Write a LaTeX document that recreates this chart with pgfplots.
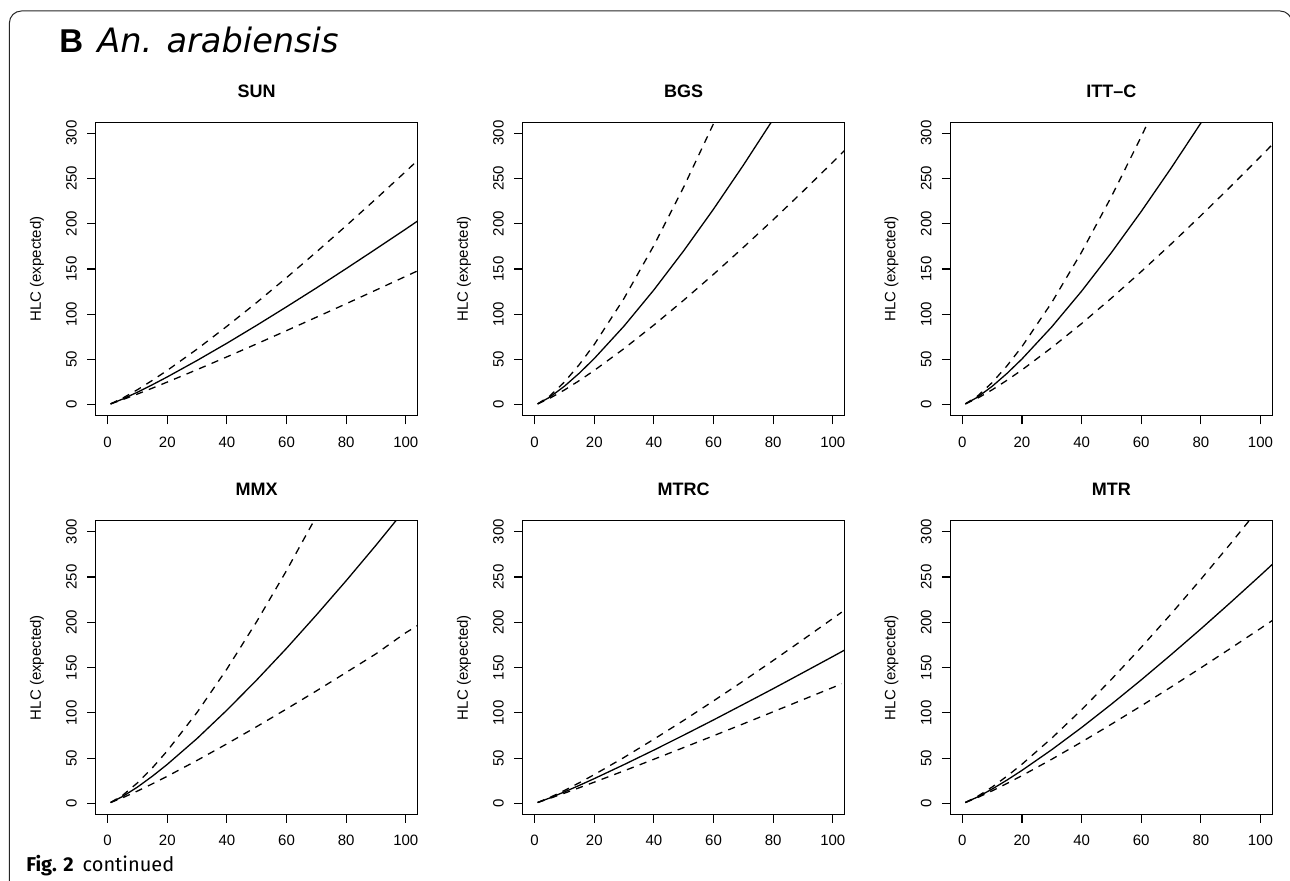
\documentclass[border=0pt]{standalone}
\usepackage{fontspec}
\setmainfont{Liberation Sans}
\newfontfamily\dejavu{DejaVu Sans}
\newfontfamily\fira{Fira Sans}
\usepackage{pgfplots}
\pgfplotsset{compat=1.18}
\pgfplotsset{
 hlc/.style={
  scale only axis, width=161pt, height=146.7pt,
  xmin=-4,xmax=104,ymin=-12,ymax=312,
  xtick={0,20,40,60,80,100}, ytick={0,50,100,150,200,250,300},
  tick align=outside, xtick pos=bottom, ytick pos=left,
  major tick length=4.3pt,
  tick style={line width=0.6pt, black},
  axis line style={line width=0.6pt},
  /pgf/number format/assume math mode=true,
  ticklabel style={font=\fontsize{7.5}{9}\selectfont},
  xticklabel style={anchor=north, inner sep=0pt, yshift=-6pt},
  yticklabel style={xshift=-5pt, rotate=90, anchor=south, inner sep=0pt},
  ylabel={HLC (expected)},
  ylabel style={at={(axis description cs:-0.1826,0.5)}, anchor=center, inner sep=0pt, font=\fontsize{7.5}{9}\selectfont},
  title style={at={(axis description cs:0.5,1)}, anchor=base, yshift=6.5pt, inner sep=0pt, font=\bfseries\fontsize{9}{11}\selectfont},
  clip=true,
 },
 sol/.style={black, line width=0.65pt, no marks},
 dsh/.style={black, line width=0.65pt, no marks, dash pattern=on 3.6pt off 3.2pt},
}
\begin{document}
\begin{tikzpicture}
\path[use as bounding box] (0,0) rectangle (645pt,440.5pt);
\draw[line width=0.5pt, black!85, rounded corners=6pt] (4.7pt,-2pt) -- (4.7pt,435pt) -- (646pt,435pt) -- (646pt,420pt);
\node[anchor=base west, inner sep=0pt] at (29.5pt,414pt) {\fontsize{16.5}{19}\selectfont\bfseries B};
\node[anchor=base west, inner sep=0pt] at (48.5pt,414pt) {\dejavu\itshape\fontsize{16.8}{20}\selectfont An. arabiensis};
\node[anchor=base west, inner sep=0pt] at (13pt,4.65pt) {\fira\fontsize{10}{12}\selectfont\bfseries Fig. 2\hspace{4.5pt}\mdseries continued};

% SUN
\begin{axis}[hlc, at={(47.85pt,232.65pt)}, anchor=south west, title={SUN}]
\addplot[sol] coordinates {(1,1) (5,6.30) (10,13.93) (15,22.16) (20,30.8) (30,48.97) (40,68.0) (50,87.8) (60,108.2) (70,129.0) (80,150.4) (90,172.1) (100,194.1) (105,205.3)};
\addplot[dsh] coordinates {(1,1.08) (5,7.3) (10,16.65) (15,26.99) (20,38) (30,61.5) (40,86.7) (50,113.0) (60,140.4) (70,168.7) (80,197.7) (90,227.4) (100,257.7) (105,273.1)};
\addplot[dsh] coordinates {(1,1) (5,5.65) (10,11.91) (15,18.43) (20,25.11) (30,38.85) (40,52.95) (50,67.3) (60,81.9) (70,96.7) (80,111.6) (90,126.7) (100,141.9) (105,149.5)};
\end{axis}

% BGS
\begin{axis}[hlc, at={(261.35pt,232.65pt)}, anchor=south west, title={BGS}]
\addplot[sol] coordinates {(1,1) (5,8.27) (10,20.56) (15,35.0) (20,51.1) (30,87.0) (40,126.9) (50,170.1) (60,216.1) (70,264.6) (80,315.3) (85,341.4)};
\addplot[dsh] coordinates {(1,1) (5,9.54) (10,25.21) (15,44.5) (20,66.6) (30,117.6) (40,176.0) (50,240.5) (60,310.5) (65,347.3)};
\addplot[dsh] coordinates {(1,1) (5,7.06) (10,16.37) (15,26.78) (20,37.96) (30,62.1) (40,88.1) (50,115.5) (60,144.1) (70,173.8) (80,204.3) (90,235.7) (100,267.9) (105,284.3)};
\end{axis}

% ITT-C
\begin{axis}[hlc, at={(475.2pt,232.65pt)}, anchor=south west, title={ITT\textendash C}]
\addplot[sol] coordinates {(1,1) (5,8.23) (10,20.42) (15,34.73) (20,50.62) (30,86.1) (40,125.5) (50,168.1) (60,213.5) (70,261.3) (80,311.1) (85,337.0)};
\addplot[dsh] coordinates {(1,1) (5,9.37) (10,24.55) (15,43.13) (20,64.3) (30,113.0) (40,168.6) (50,229.9) (60,296.1) (65,331.0)};
\addplot[dsh] coordinates {(1,1) (5,7.11) (10,16.56) (15,27.15) (20,38.55) (30,63.2) (40,89.7) (50,117.8) (60,147.1) (70,177.5) (80,208.9) (90,241.1) (100,274.1) (105,290.9)};
\end{axis}

% MMX
\begin{axis}[hlc, at={(47.85pt,33.35pt)}, anchor=south west, title={MMX}]
\addplot[sol] coordinates {(1,1) (5,7.55) (10,18.04) (15,30.03) (20,43.1) (30,71.7) (40,103.0) (50,136.3) (60,171.3) (70,208.0) (80,245.9) (90,285.1) (100,325.6)};
\addplot[dsh] coordinates {(1,1) (5,8.86) (10,22.67) (15,39.27) (20,58.0) (30,100.5) (40,148.4) (50,200.8) (60,257.1) (70,316.9)};
\addplot[dsh] coordinates {(1,1) (5,6.21) (10,13.65) (15,21.62) (20,29.97) (30,47.5) (40,65.8) (50,84.8) (60,104.3) (70,124.2) (80,144.6) (90,165.2) (100,188.5) (105,198.5)};
\end{axis}

% MTRC
\begin{axis}[hlc, at={(261.35pt,33.35pt)}, anchor=south west, title={MTRC}]
\addplot[sol] coordinates {(1,1) (5,5.92) (10,12.74) (15,19.94) (20,27.39) (30,42.88) (40,58.9) (50,75.4) (60,92.2) (70,109.4) (80,126.7) (90,144.4) (100,162.2) (105,171.2)};
\addplot[dsh] coordinates {(1,1) (5,6.42) (10,14.29) (15,22.83) (20,31.8) (30,50.8) (40,70.9) (50,91.7) (60,113.2) (70,135.2) (80,157.8) (90,180.8) (100,204.2) (103,211.2)};
\addplot[dsh] coordinates {(1,1) (5,5.45) (10,11.31) (15,17.35) (20,23.48) (30,36.0) (40,48.76) (50,61.7) (60,74.7) (70,87.9) (80,101.2) (90,114.6) (100,128.0) (103,132.1)};
\end{axis}

% MTR
\begin{axis}[hlc, at={(475.2pt,33.35pt)}, anchor=south west, title={MTR}]
\addplot[sol] coordinates {(1,1) (5,6.91) (10,15.87) (15,25.83) (20,36.48) (30,59.35) (40,83.8) (50,109.6) (60,136.4) (70,164.2) (80,192.7) (90,222.0) (100,251.9) (105,267.1)};
\addplot[dsh] coordinates {(1,1) (5,7.57) (10,18.10) (15,30.14) (20,43.27) (30,72.1) (40,103.5) (50,137.0) (60,172.4) (70,209.2) (80,247.5) (90,287.0) (100,327.7)};
\addplot[dsh] coordinates {(1,1) (5,6.29) (10,13.90) (15,22.10) (20,30.70) (30,48.8) (40,67.8) (50,87.5) (60,107.7) (70,128.5) (80,149.7) (90,171.3) (100,193.2) (105,204.3)};
\end{axis}
\end{tikzpicture}
\end{document}
